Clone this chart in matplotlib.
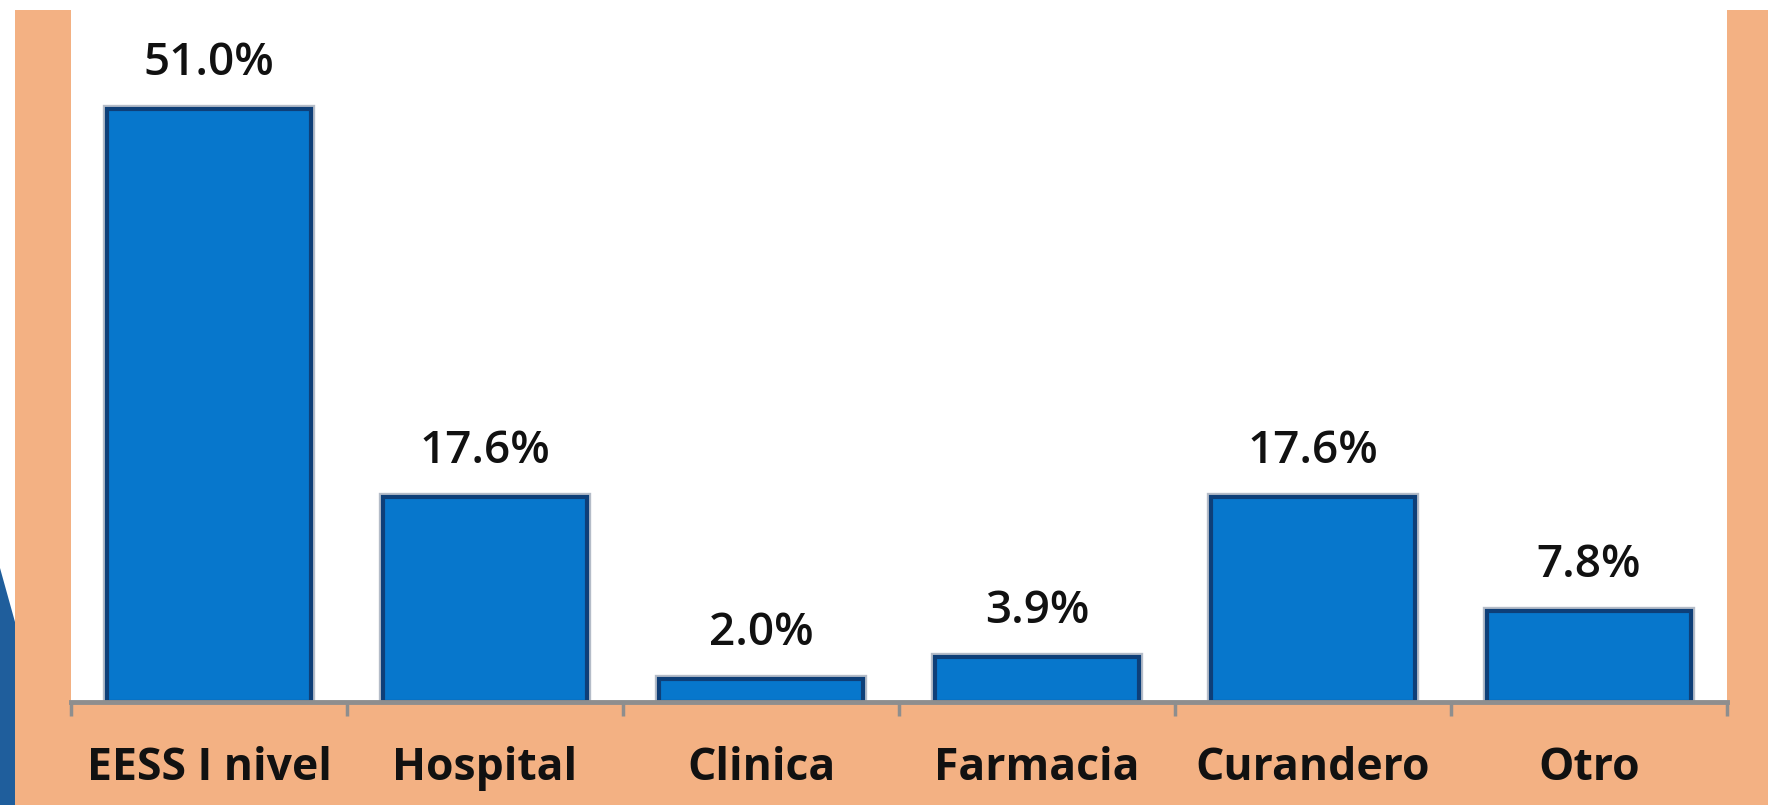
import matplotlib
matplotlib.use('Agg')
import matplotlib.pyplot as plt
from matplotlib.patches import Rectangle, Polygon
import numpy as np

categories = ['EESS I nivel', 'Hospital', 'Clinica', 'Farmacia', 'Curandero', 'Otro']
values = [51.0, 17.6, 2.0, 3.9, 17.6, 7.8]

W, H = 1768, 805
peach = '#F3B183'
bar_blue = '#0777CC'
bar_edge = '#0E3F78'
axis_grey = '#8E8E8E'

plt.rcParams['font.family'] = ['Open Sans', 'DejaVu Sans']

fig = plt.figure(figsize=(W / 100, H / 100), dpi=100, facecolor='white')

# peach frame and the bit of photo at bottom left
fig.patches.append(Rectangle((15 / W, 0), 1 - 15 / W, 795 / H, transform=fig.transFigure,
                             facecolor=peach, edgecolor='none', zorder=-10))
fig.patches.append(Polygon([(0, 0), (15 / W, 0), (15 / W, (H - 622) / H), (0, (H - 568) / H)],
                           closed=True, transform=fig.transFigure,
                           facecolor='#1F5E9C', edgecolor='none', zorder=-10))

ax = fig.add_axes([71 / W, 103 / H, (1727 - 71) / W, (702 - 10) / H])
ax.set_facecolor('white')

x = np.arange(len(categories))
# soft grey halo behind the bars, then the bars themselves
ax.bar(x, values, width=0.74, color=bar_blue, edgecolor='#B4BCC8', linewidth=6, zorder=2)
ax.bar(x, values, width=0.74, color=bar_blue, edgecolor=bar_edge, linewidth=3, zorder=3)

ax.set_xlim(-0.5, len(categories) - 0.5)
ax.set_ylim(0, 692 / 11.63)

for s in ['top', 'right', 'left']:
    ax.spines[s].set_visible(False)
ax.spines['bottom'].set_color(axis_grey)
ax.spines['bottom'].set_linewidth(3.5)
ax.spines['bottom'].set_zorder(4)

ax.set_yticks([])
ax.set_xticks(np.arange(-0.5, len(categories), 1.0))
ax.set_xticklabels([])
ax.tick_params(axis='x', direction='out', length=10, width=2.5, color=axis_grey)

for i, v in enumerate(values):
    ax.annotate(f'{v:.1f}%', xy=(i, v), xytext=(0, 24.5), textcoords='offset points',
                ha='center', va='baseline', fontsize=33, fontweight='semibold', color='#111111')
    ax.annotate(categories[i], xy=(i, 0), xycoords=('data', 'axes fraction'),
                xytext=(0, -56), textcoords='offset points',
                ha='center', va='baseline', fontsize=32, fontweight='bold', color='#111111',
                annotation_clip=False)

fig.savefig('out.png', dpi=100, facecolor='white')
